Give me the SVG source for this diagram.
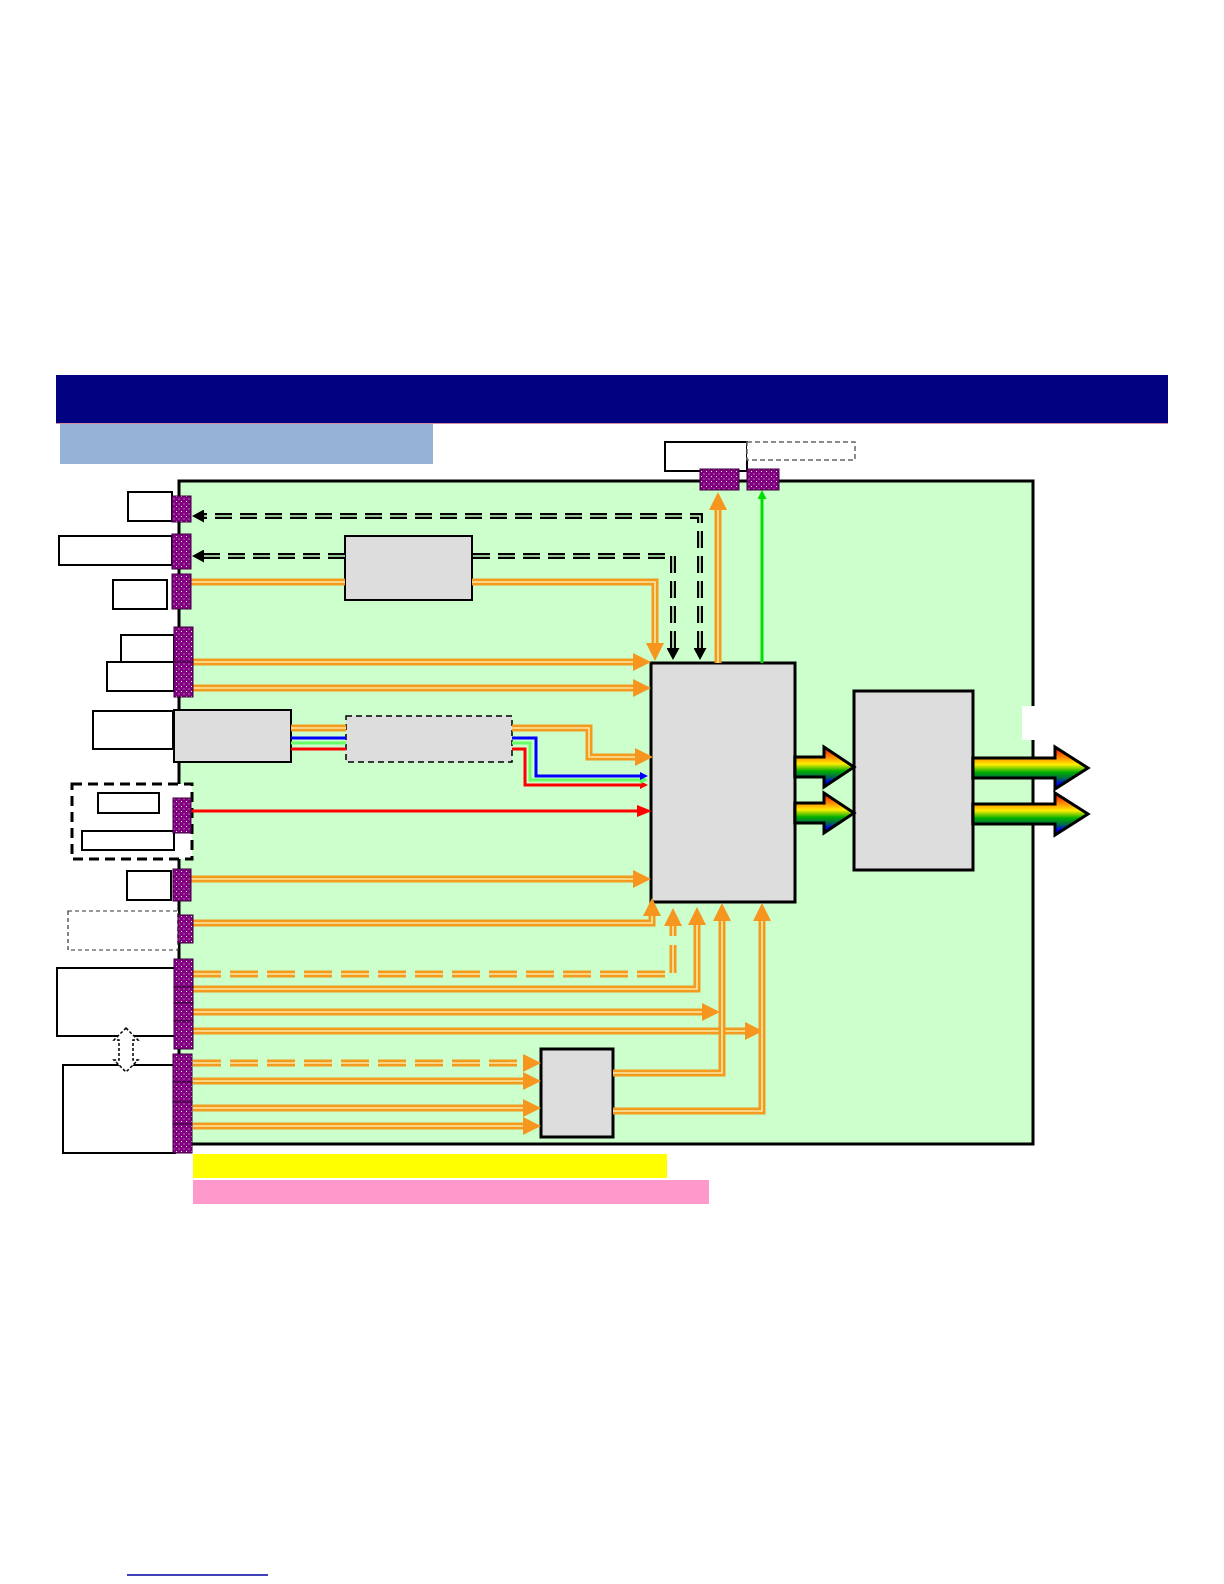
<svg xmlns="http://www.w3.org/2000/svg" xmlns:xlink="http://www.w3.org/1999/xlink" width="1224" height="1584" viewBox="0 0 1224 1584">
<style>
.wb{fill:#fff;stroke:#000;stroke-width:2}
.gb{fill:#DDDDDD;stroke:#000;stroke-width:2}
.gbt{fill:#DDDDDD;stroke:#000;stroke-width:3}
.con{fill:url(#dots);stroke:#3a003a;stroke-width:1}
.ob{fill:none;stroke:#F29B1F;stroke-width:7}
.oc{fill:none;stroke:#FFE9A6;stroke-width:1.6}
.od{stroke-dasharray:28 9}
.kb{fill:none;stroke:#000;stroke-width:6;stroke-dasharray:17 8}
.kc{fill:none;stroke:#CCFFCC;stroke-width:1.6;stroke-dasharray:17 8}
.thin{fill:none;stroke-width:3}
.rb{fill:url(#rainbow);stroke:#000;stroke-width:3;stroke-linejoin:miter}
</style>
<defs>
<pattern id="dots" width="5" height="5" patternUnits="userSpaceOnUse">
<rect width="5" height="5" fill="#800080"/>
<rect x="1" y="1" width="1" height="1" fill="#fff"/>
<rect x="3.5" y="3.5" width="1" height="1" fill="#E8C8E8"/>
</pattern>
<linearGradient id="rainbow" x1="0" y1="0" x2="0" y2="1">
<stop offset="0" stop-color="#FF0000"/>
<stop offset="0.25" stop-color="#FF8C00"/>
<stop offset="0.42" stop-color="#FFEE00"/>
<stop offset="0.6" stop-color="#00B000"/>
<stop offset="0.75" stop-color="#006A4A"/>
<stop offset="0.88" stop-color="#0000FF"/>
<stop offset="1" stop-color="#000080"/>
</linearGradient>
<marker id="oa" markerUnits="userSpaceOnUse" markerWidth="18" markerHeight="18" viewBox="0 0 18 18" refX="0" refY="9" orient="auto"><path d="M0,0 L18,9 L0,18 Z" fill="#F7961E"/></marker>
<marker id="ka" markerUnits="userSpaceOnUse" markerWidth="12" markerHeight="13" viewBox="0 0 12 13" refX="0" refY="6.5" orient="auto-start-reverse"><path d="M0,0 L12,6.5 L0,13 Z" fill="#000"/></marker>
<marker id="ra" markerUnits="userSpaceOnUse" markerWidth="15" markerHeight="12" viewBox="0 0 15 12" refX="0" refY="6" orient="auto"><path d="M0,0 L15,6 L0,12 Z" fill="#FF0000"/></marker>
<marker id="ga" markerUnits="userSpaceOnUse" markerWidth="9" markerHeight="9" viewBox="0 0 9 9" refX="0" refY="4.5" orient="auto"><path d="M0,0 L9,4.5 L0,9 Z" fill="#00DD00"/></marker>
<marker id="sb" markerUnits="userSpaceOnUse" markerWidth="8" markerHeight="8" viewBox="0 0 8 8" refX="0" refY="4" orient="auto"><path d="M0,0 L8,4 L0,8 Z" fill="#0000FF"/></marker>
<marker id="sg" markerUnits="userSpaceOnUse" markerWidth="8" markerHeight="8" viewBox="0 0 8 8" refX="0" refY="4" orient="auto"><path d="M0,0 L8,4 L0,8 Z" fill="#66FF66"/></marker>
<marker id="sr" markerUnits="userSpaceOnUse" markerWidth="8" markerHeight="8" viewBox="0 0 8 8" refX="0" refY="4" orient="auto"><path d="M0,0 L8,4 L0,8 Z" fill="#FF0000"/></marker>
<path id="o1a" d="M191,582 H345"/>
<path id="o1b" d="M472,582 H655 V643"/>
<path id="o2" d="M193,662 H633"/>
<path id="o3" d="M193,688 H633"/>
<path id="o4a" d="M291,728 H346"/>
<path id="o4b" d="M512,728 H589 V757 H635"/>
<path id="o6" d="M191,879 H633"/>
<path id="o7" d="M193,923 H652 V916"/>
<path id="o8" d="M193,974 H673 V926"/>
<path id="o9" d="M193,989 H697 V925"/>
<path id="o10" d="M193,1012 H702"/>
<path id="o11" d="M193,1031 H745"/>
<path id="o12" d="M613,1073 H722 V921"/>
<path id="o13" d="M613,1111 H762 V921"/>
<path id="o14" d="M193,1063 H523"/>
<path id="o15" d="M193,1081 H523"/>
<path id="o16" d="M193,1108 H523"/>
<path id="o17" d="M193,1126 H523"/>
<path id="o18" d="M718,663 V510"/>
<path id="k1" d="M700,648 V516 H204"/>
<path id="k2a" d="M673,648 V556 H472"/>
<path id="k2b" d="M345,556 H204"/>
</defs>
<rect width="1224" height="1584" fill="#fff"/>
<g id="title-bar"><rect x="56" y="375" width="1112" height="48" fill="#000080"/><line x1="56" y1="423.5" x2="1168" y2="423.5" stroke="#D090A0" stroke-width="1"/></g>
<g id="subtitle-bar"><rect x="60" y="424" width="373" height="40" fill="#95B3D7"/></g>
<g id="panel"><rect x="179" y="481" width="854" height="663" fill="#CCFFCC" stroke="#000" stroke-width="3"/></g>
<g id="edge-gap"><rect x="1022" y="706" width="18" height="34" fill="#fff"/></g>
<g id="top-box"><rect class="wb" x="665" y="442" width="82" height="29"/></g>
<g id="top-dashed-box"><rect x="747" y="442" width="108" height="18" fill="#fff" stroke="#666" stroke-width="1.5" stroke-dasharray="5 3"/></g>
<g id="ext1"><rect class="wb" x="128" y="492" width="44" height="29"/></g>
<g id="ext2"><rect class="wb" x="59" y="536" width="113" height="29"/></g>
<g id="ext3"><rect class="wb" x="113" y="580" width="54" height="29"/></g>
<g id="ext4"><rect class="wb" x="121" y="635" width="53" height="28"/></g>
<g id="ext5"><rect class="wb" x="107" y="662" width="67" height="29"/></g>
<g id="ext6"><rect class="wb" x="93" y="711" width="80" height="38" stroke-width="2.5"/></g>
<g id="ext-group"><rect x="72" y="784" width="120" height="75" fill="#fff" stroke="#000" stroke-width="3" stroke-dasharray="10 6"/><rect class="wb" x="98" y="793" width="61" height="20"/><rect class="wb" x="82" y="831" width="92" height="19"/></g>
<g id="ext9"><rect class="wb" x="127" y="871" width="44" height="29"/></g>
<g id="ext-dashed"><rect x="68" y="911" width="110" height="39" fill="#fff" stroke="#333" stroke-width="1.2" stroke-dasharray="4 3"/></g>
<g id="ext10"><rect class="wb" x="57" y="968" width="118" height="68" stroke-width="1.5"/></g>
<g id="ext11"><rect class="wb" x="63" y="1065" width="112" height="88" stroke-width="1.5"/></g>
<g id="double-arrow"><path d="M126,1028 L138,1040 L133,1040 L133,1060 L138,1060 L126,1072 L114,1060 L119,1060 L119,1040 L114,1040 Z" fill="#fff" stroke="#000" stroke-width="1.5" stroke-dasharray="3 2"/></g>
<g id="block-top"><rect class="gb" x="345" y="536" width="127" height="64" stroke-width="1.5"/></g>
<g id="block-left"><rect class="gb" x="174" y="710" width="117" height="52"/></g>
<g id="block-dashed"><rect x="346" y="716" width="166" height="46" fill="#DDDDDD" stroke="#000" stroke-width="1.5" stroke-dasharray="6 4"/></g>
<g id="block-main"><rect class="gbt" x="651" y="663" width="144" height="239"/></g>
<g id="block-right"><rect class="gbt" x="854" y="691" width="119" height="179"/></g>
<g id="block-small"><rect class="gbt" x="541" y="1049" width="72" height="88"/></g>
<g id="connectors">
<use href="#o1a" class="ob"/><use href="#o1a" class="oc"/>
<use href="#o1b" class="ob" marker-end="url(#oa)"/><use href="#o1b" class="oc"/>
<use href="#o2" class="ob" marker-end="url(#oa)"/><use href="#o2" class="oc"/>
<use href="#o3" class="ob" marker-end="url(#oa)"/><use href="#o3" class="oc"/>
<use href="#o4a" class="ob"/><use href="#o4a" class="oc"/>
<use href="#o4b" class="ob" marker-end="url(#oa)"/><use href="#o4b" class="oc"/>
<use href="#o6" class="ob" marker-end="url(#oa)"/><use href="#o6" class="oc"/>
<use href="#o7" class="ob" marker-end="url(#oa)"/><use href="#o7" class="oc"/>
<use href="#o8" class="ob od" marker-end="url(#oa)"/><use href="#o8" class="oc od"/>
<use href="#o9" class="ob" marker-end="url(#oa)"/><use href="#o9" class="oc"/>
<use href="#o10" class="ob" marker-end="url(#oa)"/><use href="#o10" class="oc"/>
<use href="#o11" class="ob" marker-end="url(#oa)"/><use href="#o11" class="oc"/>
<use href="#o12" class="ob" marker-end="url(#oa)"/><use href="#o12" class="oc"/>
<use href="#o13" class="ob" marker-end="url(#oa)"/><use href="#o13" class="oc"/>
<use href="#o14" class="ob od" marker-end="url(#oa)"/><use href="#o14" class="oc od"/>
<use href="#o15" class="ob" marker-end="url(#oa)"/><use href="#o15" class="oc"/>
<use href="#o16" class="ob" marker-end="url(#oa)"/><use href="#o16" class="oc"/>
<use href="#o17" class="ob" marker-end="url(#oa)"/><use href="#o17" class="oc"/>
<use href="#o18" class="ob" marker-end="url(#oa)"/><use href="#o18" class="oc"/>
<use href="#k1" class="kb" marker-start="url(#ka)" marker-end="url(#ka)"/><use href="#k1" class="kc"/>
<use href="#k2a" class="kb" marker-start="url(#ka)"/><use href="#k2a" class="kc"/>
<use href="#k2b" class="kb" marker-end="url(#ka)"/><use href="#k2b" class="kc"/>
<path d="M762,663 V499" fill="none" stroke="#00DD00" stroke-width="3" marker-end="url(#ga)"/>
<path d="M291,738 H346" class="thin" stroke="#0000FF"/>
<path d="M291,743 H346" class="thin" stroke="#66FF66"/>
<path d="M291,749 H346" class="thin" stroke="#FF0000"/>
<path d="M512,749 H525 V785 H640" class="thin" stroke="#FF0000" marker-end="url(#sr)"/>
<path d="M512,743 H530 V780 H640" class="thin" stroke="#66FF66" marker-end="url(#sg)"/>
<path d="M512,738 H536 V776 H640" class="thin" stroke="#0000FF" marker-end="url(#sb)"/>
<path d="M191,811 H637" class="thin" stroke="#FF0000" marker-end="url(#ra)"/>
<path class="rb" d="M795,757 H824 V747 L854,767 L824,787 V777 H795 Z"/>
<path class="rb" d="M795,803 H824 V793 L854,813 L824,833 V823 H795 Z"/>
<path class="rb" d="M973,758 H1055 V747 L1088,768 L1055,789 V778 H973 Z"/>
<path class="rb" d="M973,804 H1055 V793 L1088,814 L1055,835 V824 H973 Z"/>
</g>
<g id="ports">
<rect class="con" x="172" y="496" width="19" height="26"/>
<rect class="con" x="172" y="534" width="19" height="35"/>
<rect class="con" x="172" y="574" width="19" height="35"/>
<rect class="con" x="174" y="627" width="19" height="35"/>
<rect class="con" x="174" y="662" width="19" height="35"/>
<rect class="con" x="173" y="798" width="18" height="35"/>
<rect class="con" x="173" y="869" width="18" height="32"/>
<rect class="con" x="178" y="915" width="15" height="28"/>
<rect class="con" x="174" y="959" width="19" height="28"/>
<rect class="con" x="174" y="987" width="19" height="16"/>
<rect class="con" x="174" y="1003" width="19" height="18"/>
<rect class="con" x="174" y="1021" width="19" height="28"/>
<rect class="con" x="173" y="1054" width="19" height="28"/>
<rect class="con" x="173" y="1082" width="19" height="20"/>
<rect class="con" x="173" y="1102" width="19" height="22"/>
<rect class="con" x="173" y="1124" width="19" height="29"/>
<rect class="con" x="700" y="469" width="39" height="21"/>
<rect class="con" x="747" y="469" width="32" height="21"/>
</g>
<g id="yellow-bar"><rect x="193" y="1154" width="474" height="24" fill="#FFFF00"/></g>
<g id="pink-bar"><rect x="193" y="1180" width="516" height="24" fill="#FF99CC"/></g>
<g id="footer-line"><line x1="127" y1="1575" x2="268" y2="1575" stroke="#0000A0" stroke-width="1.5"/></g>
</svg>
